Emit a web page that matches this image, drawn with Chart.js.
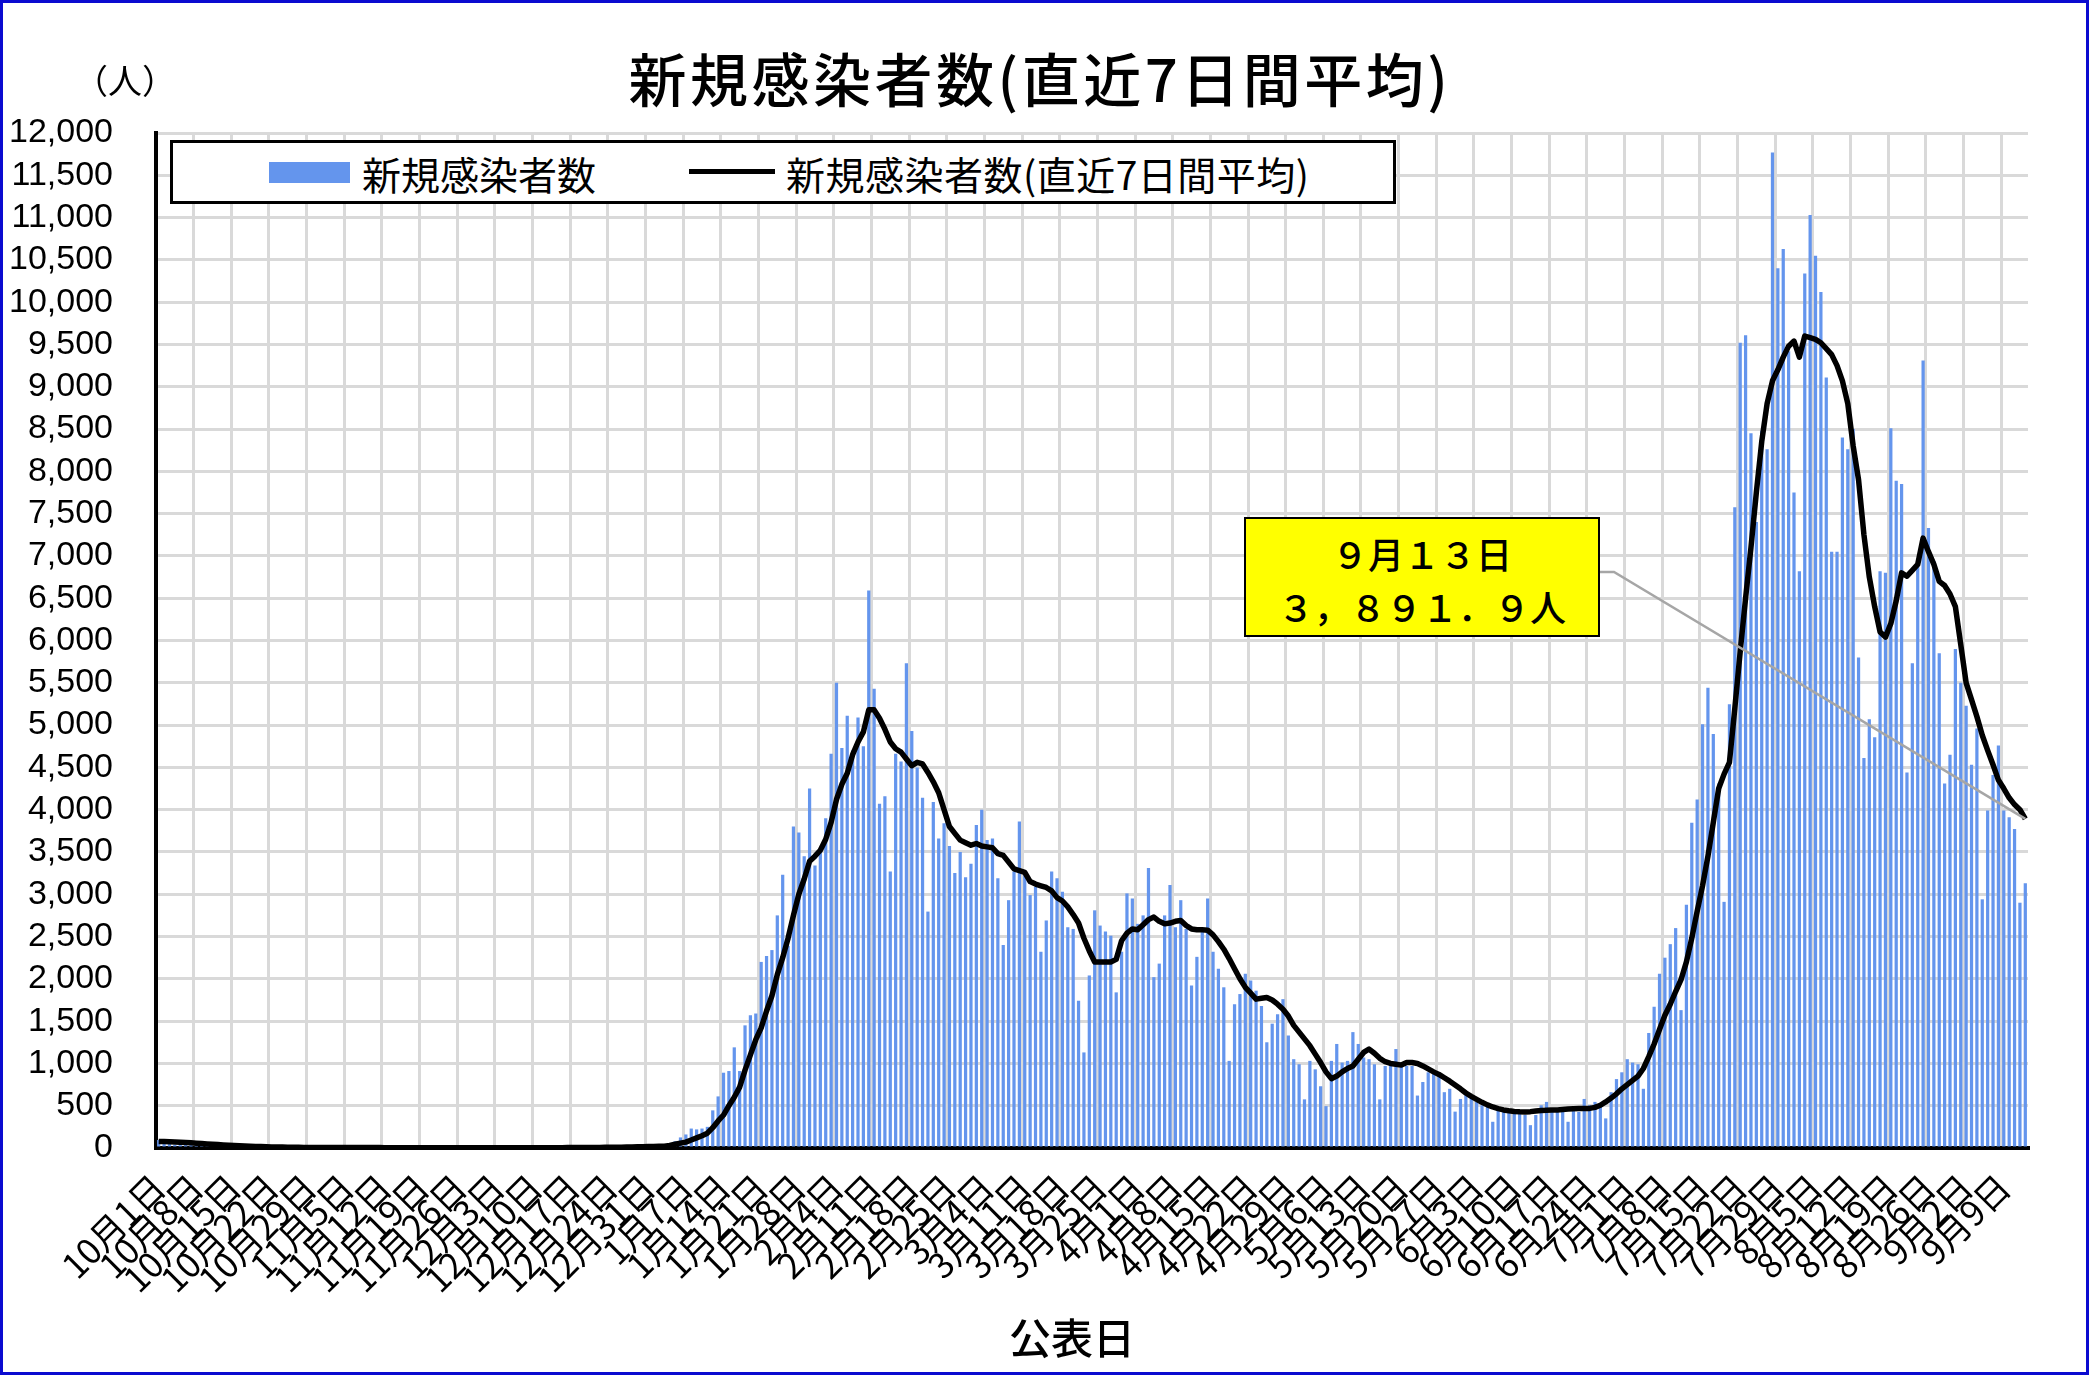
<!DOCTYPE html>
<html lang="ja"><head><meta charset="utf-8">
<script src="https://cdn.jsdelivr.net/npm/chart.js@4.4.0/dist/chart.umd.min.js"></script>
<style>
html,body{margin:0;padding:0;background:#fff;}
body{width:2089px;height:1375px;position:relative;overflow:hidden;font-family:"Noto Sans CJK JP","Noto Sans",sans-serif;color:#000;}
#c{position:absolute;left:0;top:0;}
.t{position:absolute;white-space:nowrap;line-height:1;}
#frame{position:absolute;left:0;top:0;width:2089px;height:1375px;box-sizing:border-box;border:3px solid #0b0bd0;pointer-events:none;}
#title{left:1040px;top:77px;transform:translate(-50%,-50%);font-size:58px;font-weight:500;letter-spacing:3.5px;}
#unit{left:125px;top:80px;transform:translate(-50%,-50%);font-size:34px;}
#legend{position:absolute;left:170px;top:140px;width:1226px;height:64px;box-sizing:border-box;border:3px solid #000;background:#fff;}
#sw1{position:absolute;left:269px;top:162px;width:81px;height:21px;background:#6495ED;}
#sw2{position:absolute;left:689px;top:169px;width:86px;height:5px;background:#000;}
#lg1{left:362px;top:173px;transform:translateY(-50%);font-size:39px;}
#lg2{left:786px;top:173px;transform:translateY(-50%);font-size:39px;letter-spacing:0.5px;}
#callout{position:absolute;left:1244px;top:517px;width:356px;height:120px;box-sizing:border-box;border:2px solid #000;background:#ffff00;text-align:center;font-size:36px;font-weight:500;line-height:53px;padding-top:8px;}
#xtitle{left:1072px;top:1336px;transform:translate(-50%,-50%);font-size:42px;font-weight:500;}
</style></head>
<body>
<canvas id="c" width="2089" height="1375"></canvas>
<div class="t" id="title">新規感染者数(直近7日間平均)</div>
<div class="t" id="unit">（人）</div>
<div id="legend"></div>
<div id="sw1"></div><div class="t" id="lg1">新規感染者数</div>
<div id="sw2"></div><div class="t" id="lg2">新規感染者数(直近7日間平均)</div>
<div id="callout">９月１３日<br>３，８９１．９人</div>
<div class="t" id="xtitle">公表日</div>
<div id="frame"></div>
<script>
// Months covered (Oct 2021 - Sep 13 2022) and number of days shown in each
const monthNums = [10,11,12,1,2,3,4,5,6,7,8,9];
const monthDays = [31,30,31,31,28,31,30,31,30,31,31,13];

// Daily new cases (bars), per month
const casesOct = [95,82,70,38,75,66,60,55,48,40,18,36,33,30,27,22,18,9,17,15,13,12,10,8,3,9,8,7,6,7,5];
const casesNov = [6,4,8,6,5,4,2,7,5,6,4,3,4,2,6,5,4,3,5,3,2,4,5,3,6,4,3,2,4,5];
const casesDec = [3,4,5,2,3,4,2,5,6,4,3,5,4,3,4,6,7,5,4,6,8,10,12,8,9,14,16,18,12,22,28];
const casesJan = [25,30,20,50,80,125,160,230,220,230,250,445,610,890,910,1190,910,1450,1570,1590,2200,2270,2340,2750,3230,2390,3800,3730,3450,4250,3340];
const casesFeb = [3520,3900,4660,5500,4730,5110,4700,5090,4750,6590,5430,4070,4160,3270,4660,4570,5730,4930,4500,4140,2795,4090,3660,3840,3570,3250,3500,3200];
const casesMar = [3360,3820,4000,3640,3660,3190,2400,2930,3270,3860,3230,2990,3090,2320,2690,3270,3190,3030,2610,2590,1740,1130,2040,2810,2630,2560,2510,1840,2320,3010,2950];
const casesApr = [2650,2750,3310,2020,2180,2750,3110,2610,2930,2590,1920,2260,2570,2950,2320,2120,1900,1030,1700,1820,2060,1980,1860,1680,1250,1470,1580,1760,1330,1050];
const casesMay = [990,575,1030,930,730,495,1030,1230,1010,1030,1370,1230,1070,1050,990,575,970,990,1170,970,970,970,620,780,895,895,855,660,700,430,580];
const casesJun = [660,580,545,505,505,310,466,466,427,427,427,390,270,390,505,545,466,427,427,310,466,427,580,505,545,505,350,660,815,895];
const casesJul = [1050,1010,990,700,1360,1670,2060,2250,2410,2600,1630,2875,3845,4120,5010,5440,4895,4310,2910,5245,7575,9520,9610,8450,7400,8480,8260,11770,10400,10630,9420];
const casesAug = [7750,6820,10340,11030,10550,10120,9110,7050,7050,8400,8260,8500,5800,4610,5070,4855,6820,6800,8510,7890,7850,4440,5730,6880,9310,7330,6940,5850,4310,4650,5900];
const casesSep = [5500,5230,4530,4960,2940,3990,4410,4760,3990,3910,3770,2900,3130];

// 7-day average (line), per month
const avgOct = [78,76,73,70,67,64,61,57,52,48,44,40,36,33,30,27,24,21,19,17,15,13,12,11,10,9,8,7,7,7,6];
const avgNov = [6,6,6,5,5,5,5,5,5,5,5,4,4,4,4,4,4,4,4,4,4,4,4,4,4,4,4,4,4,4];
const avgDec = [4,4,4,4,4,4,4,4,4,4,4,4,4,4,4,5,5,5,5,5,6,7,8,8,9,10,11,13,14,16,18];
const avgJan = [18,20,22,30,45,58,70,95,120,145,175,240,320,390,500,600,720,920,1100,1280,1420,1620,1800,2050,2250,2480,2750,3000,3180,3390,3450];
const avgFeb = [3520,3650,3850,4120,4300,4430,4650,4800,4920,5180,5180,5080,4950,4800,4720,4680,4600,4520,4560,4540,4440,4330,4200,4000,3800,3720,3640,3610];
const avgMar = [3580,3600,3570,3560,3550,3480,3460,3380,3300,3280,3260,3150,3120,3100,3080,3040,2960,2920,2850,2760,2660,2480,2330,2200,2200,2200,2200,2230,2450,2540,2590];
const avgApr = [2580,2640,2700,2730,2680,2650,2660,2680,2690,2630,2590,2580,2580,2575,2520,2440,2350,2240,2120,2000,1900,1830,1760,1770,1780,1750,1700,1640,1560,1450];
const avgMay = [1370,1290,1210,1110,1010,900,820,850,900,940,970,1050,1130,1170,1120,1060,1020,1000,990,980,1010,1010,1000,970,935,900,870,830,790,745,700];
const avgJun = [650,610,575,540,510,485,465,450,440,432,428,427,430,438,443,445,448,450,455,460,465,466,466,468,480,505,545,590,640,700];
const avgJul = [750,800,850,940,1080,1230,1400,1570,1700,1850,1990,2200,2480,2800,3100,3450,3850,4250,4420,4560,5200,5870,6500,7100,7750,8350,8800,9070,9200,9350,9480];
const avgAug = [9540,9350,9600,9580,9560,9520,9450,9380,9250,9070,8800,8300,7900,7250,6750,6400,6100,6040,6200,6470,6800,6760,6830,6900,7210,7050,6900,6700,6650,6550,6400];
const avgSep = [5950,5500,5300,5100,4880,4700,4530,4350,4250,4140,4060,4000,3891.9];

// Y axis tick values
const yMin = 0, yMax = 12000, yStep = 500;

const cases = [].concat(casesOct,casesNov,casesDec,casesJan,casesFeb,casesMar,casesApr,casesMay,casesJun,casesJul,casesAug,casesSep);
const avg7 = [].concat(avgOct,avgNov,avgDec,avgJan,avgFeb,avgMar,avgApr,avgMay,avgJun,avgJul,avgAug,avgSep);
const labels = [];
monthNums.forEach((m,mi)=>{ for(let d=1; d<=monthDays[mi]; d++) labels.push(m+'月'+d+'日'); });

const FONT = '"Noto Sans CJK JP","Noto Sans",sans-serif';

const leader = {
  id:'leader',
  afterDatasetsDraw(chart){
    const meta = chart.getDatasetMeta(1);
    const pt = meta.data[meta.data.length-1];
    const ctx = chart.ctx;
    ctx.save();
    ctx.strokeStyle = '#a6a6a6';
    ctx.lineWidth = 2.5;
    ctx.beginPath();
    ctx.moveTo(1600, 572);
    ctx.lineTo(1614, 572);
    ctx.lineTo(pt.x, pt.y);
    ctx.stroke();
    ctx.restore();
  }
};

new Chart(document.getElementById('c'), {
  type:'bar',
  data:{
    labels: labels,
    datasets:[
      {type:'bar', label:'新規感染者数', data:cases, backgroundColor:'#6495ED', borderWidth:0,
       barPercentage:0.6, categoryPercentage:1.0, order:2},
      {type:'line', label:'新規感染者数(直近7日間平均)', data:avg7, borderColor:'#000', borderWidth:5.5,
       pointRadius:0, tension:0, fill:false, order:1, borderJoinStyle:'round'}
    ]
  },
  options:{
    responsive:false, animation:false, devicePixelRatio:1,
    layout:{padding:{left:0, top:133, right:61, bottom:0}},
    plugins:{legend:{display:false}, title:{display:false}, tooltip:{enabled:false}},
    scales:{
      x:{
        offset:true,
        grid:{offset:true, lineWidth:3, drawTicks:false,
              color:(c)=> (c.index % 7 === 0 ? '#d9d9d9' : 'rgba(0,0,0,0)')},
        border:{display:true, color:'#000', width:4},
        ticks:{autoSkip:false, minRotation:45, maxRotation:45, padding:18, color:'#000',
               font:{family:FONT, size:35},
               callback:(v,i)=> (i % 7 === 0 ? labels[i] : '')},
        afterFit:(s)=>{ s.height = 227; }
      },
      y:{
        min:yMin, max:yMax,
        grid:{color:'#d9d9d9', lineWidth:3, drawTicks:false},
        border:{display:true, color:'#000', width:4},
        ticks:{stepSize:yStep, autoSkip:false, padding:43, color:'#000',
               font:{family:'"Liberation Sans","DejaVu Sans",sans-serif', size:34},
               callback:(v)=> v.toLocaleString('en-US')},
        afterFit:(s)=>{ s.width = 156; }
      }
    }
  },
  plugins:[leader]
});
</script>
</body></html>
